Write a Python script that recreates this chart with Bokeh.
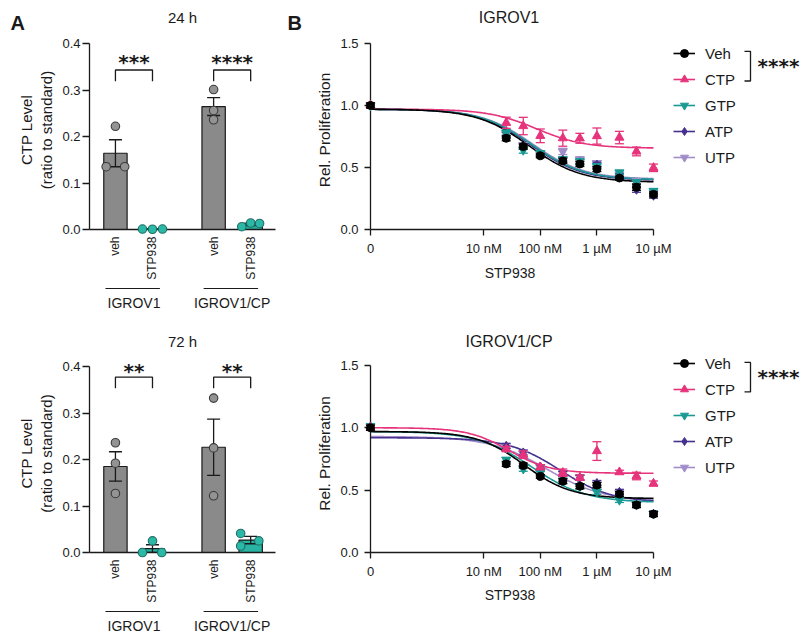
import numpy as np
from bokeh.plotting import figure
from bokeh.models import (Range1d, FixedTicker, Label, Legend, LegendItem,
                          ColumnDataSource, NumeralTickFormatter)
from bokeh.core.properties import value
from bokeh.layouts import column, row
from bokeh.embed import file_html
from bokeh.resources import INLINE

FONT = "Liberation Sans"
INK = "#1a1a1a"

# ---------------- Panel A data (CTP level, ratio to standard) ----------------
A_CONDITIONS = ["veh", "STP938", "veh", "STP938"]
A_CELL_LINES = ["IGROV1", "IGROV1/CP"]
A_TIMEPOINTS = ["24 h", "72 h"]
CTP_LEVEL_24H = [
    [0.222, 0.135, 0.135],
    [0.001, 0.0005, 0.001],
    [0.301, 0.256, 0.236],
    [0.006, 0.014, 0.013],
]
CTP_LEVEL_72H = [
    [0.236, 0.192, 0.127],
    [0.025, 0.0, 0.0],
    [0.332, 0.225, 0.122],
    [0.041, 0.025, 0.014],
]
SIGNIF_24H = ["***", "****"]
SIGNIF_72H = ["**", "**"]
A_YTICKS = [0.0, 0.1, 0.2, 0.3, 0.4]

# ---------------- Panel B data (relative proliferation) ----------------
CONC_NM = [0, 25, 50, 100, 250, 500, 1000, 2500, 5000, 10000]
B_XTICKS = [0.1, 10, 100, 1000, 10000]          # "0" is drawn at 0.1 nM
B_XLABELS = ["0", "10 nM", "100 nM", "1 µM", "10 µM"]
B_YTICKS = [0.0, 0.5, 1.0, 1.5]
SUPPLEMENTS = ["Veh", "CTP", "GTP", "ATP", "UTP"]
B_TITLES = ["IGROV1", "IGROV1/CP"]
B_XLABEL = "STP938"
B_SIGNIF = "****"

IGROV1_VEH = [1.00, 0.735, 0.669, 0.594, 0.553, 0.528, 0.487, 0.415, 0.341, 0.283]
IGROV1_CTP = [1.00, 0.860, 0.834, 0.755, 0.736, 0.735, 0.753, 0.741, 0.629, 0.497]
IGROV1_GTP = [1.00, 0.780, 0.640, 0.615, 0.565, 0.549, 0.510, 0.460, 0.381, 0.310]
IGROV1_ATP = [1.00, 0.765, 0.668, 0.602, 0.560, 0.541, 0.522, 0.434, 0.320, 0.272]
IGROV1_UTP = [1.00, 0.767, 0.680, 0.607, 0.629, 0.565, 0.535, 0.442, 0.390, 0.293]
IGROV1_VEH_ERR = [0.02, 0.02, 0.02, 0.015, 0.02, 0.02, 0.02, 0.015, 0.025, 0.02]
IGROV1_CTP_ERR = [0.02, 0.045, 0.07, 0.055, 0.065, 0.04, 0.065, 0.05, 0.035, 0.03]
IGROV1_GTP_ERR = [0.02, 0.02, 0.025, 0.015, 0.02, 0.02, 0.02, 0.015, 0.02, 0.02]
IGROV1_ATP_ERR = [0.02, 0.02, 0.02, 0.015, 0.02, 0.02, 0.02, 0.015, 0.02, 0.02]
IGROV1_UTP_ERR = [0.02, 0.02, 0.02, 0.015, 0.025, 0.02, 0.02, 0.015, 0.02, 0.02]
# fitted curves: top, bottom, logIC50 (log10 nM), Hill slope
IGROV1_FIT_VEH = [0.97, 0.380, 1.80, 0.95]
IGROV1_FIT_CTP = [0.97, 0.655, 1.93, 1.02]
IGROV1_FIT_GTP = [0.97, 0.400, 1.85, 0.95]
IGROV1_FIT_ATP = [0.97, 0.395, 1.83, 0.95]
IGROV1_FIT_UTP = [0.97, 0.405, 1.87, 0.95]

CP_VEH = [1.00, 0.710, 0.697, 0.610, 0.571, 0.531, 0.540, 0.468, 0.381, 0.308]
CP_CTP = [1.00, 0.829, 0.784, 0.684, 0.639, 0.600, 0.813, 0.644, 0.613, 0.553]
CP_GTP = [1.01, 0.742, 0.671, 0.636, 0.575, 0.530, 0.486, 0.421, 0.385, 0.310]
CP_ATP = [1.01, 0.855, 0.802, 0.689, 0.630, 0.600, 0.557, 0.486, 0.380, 0.310]
CP_UTP = [1.01, 0.840, 0.790, 0.684, 0.630, 0.600, 0.545, 0.475, 0.382, 0.310]
CP_VEH_ERR = [0.02, 0.02, 0.02, 0.015, 0.02, 0.02, 0.02, 0.02, 0.02, 0.02]
CP_CTP_ERR = [0.02, 0.02, 0.03, 0.02, 0.03, 0.02, 0.075, 0.015, 0.03, 0.02]
CP_GTP_ERR = [0.02, 0.02, 0.02, 0.015, 0.02, 0.02, 0.02, 0.02, 0.02, 0.02]
CP_ATP_ERR = [0.02, 0.02, 0.02, 0.015, 0.02, 0.02, 0.02, 0.02, 0.02, 0.02]
CP_UTP_ERR = [0.02, 0.02, 0.02, 0.015, 0.02, 0.02, 0.02, 0.02, 0.02, 0.02]
CP_FIT_VEH = [0.97, 0.432, 1.72, 1.05]
CP_FIT_CTP = [1.00, 0.635, 1.45, 1.19]
CP_FIT_GTP = [0.97, 0.400, 1.85, 0.91]
CP_FIT_ATP = [0.92, 0.400, 2.35, 0.95]
CP_FIT_UTP = [0.93, 0.410, 2.11, 0.86]

# ---------------- styles / layout ----------------
A_POS = [0.0, 1.0, 2.65, 3.65]
A_GROUPS = [(0, 1), (2, 3)]
A_XRANGE = (-0.70, 4.32)
A_BAR_FILL = ["#8a8a8a", "#29b3a2", "#8a8a8a", "#29b3a2"]
A_PT_FILL = ["#939393", "#2bb8a6", "#939393", "#2bb8a6"]
A_PT_LINE = ["#3a3a3a", "#1f6f66", "#3a3a3a", "#1f6f66"]
JITTER_24H = [[0, -0.25, 0.25], [-0.27, 0, 0.27], [0, 0, 0], [-0.24, 0, 0.24]]
JITTER_72H = [[0, 0, 0], [0, -0.27, 0.25], [0, 0, 0], [-0.27, 0.22, -0.27]]

B_COLORS = {"Veh": "#000000", "CTP": "#e6337b", "GTP": "#1b9a94", "ATP": "#46318e", "UTP": "#a08dc9"}
B_MARKERS = {"Veh": "circle", "CTP": "triangle", "GTP": "inverted_triangle",
             "ATP": "diamond", "UTP": "inverted_triangle"}
B_SIZES = {"Veh": 8, "CTP": 9, "GTP": 9, "ATP": 9, "UTP": 9}
B_DRAW_ORDER = ["UTP", "ATP", "GTP", "CTP", "Veh"]

W_A, W_B = 287, 517
H_TOP, H_BOT = 310, 323
A_LEFT, B_LEFT = 89, 83
A_FRAME_W = 186
B_PLOT_W = 283                 # pixels from "0" to "10 µM"
B_FRAME_W = W_B - B_LEFT - 4   # frame continues to the right to hold the legend
TITLE_STANDOFF = 10
# approximate advance widths (em) of the title glyphs, used to centre B titles over the axis span
GLYPH_EM = {"I": 0.278, "G": 0.778, "R": 0.722, "O": 0.778, "V": 0.667, "1": 0.556, "/": 0.278,
            "C": 0.722, "P": 0.667}


def style_axis(ax, size="13px"):
    ax.axis_line_color = INK
    ax.axis_line_width = 1.3
    ax.major_tick_line_color = INK
    ax.major_tick_line_width = 1.3
    ax.minor_tick_line_color = None
    ax.major_tick_in = 0
    ax.major_label_text_font = FONT
    ax.major_label_text_font_size = size
    ax.major_label_text_color = INK
    ax.axis_label_text_font = FONT
    ax.axis_label_text_font_style = "normal"
    ax.axis_label_text_color = INK


def style_title(p, text, size, align="center", offset=0):
    p.title.text = text
    p.title.align = align
    p.title.offset = offset
    p.title.text_font = FONT
    p.title.text_font_size = size
    p.title.text_font_style = "normal"
    p.title.text_color = INK
    p.title.standoff = TITLE_STANDOFF


def free_text(p, x, y, txt, size, font=FONT, bold=True, align="left", baseline="alphabetic"):
    r = p.text(x=[x], y=[y], text=[txt], text_font=value(font), text_font_size=value(size),
               text_font_style="bold" if bold else "normal", text_color=INK,
               text_align=align, text_baseline=baseline)
    r.level = "overlay"
    return r


def panel_a(values, signif, title, height, plot_top, plot_h, title_center, jitter, bracket_y,
            star_dy, letters):
    border_top = int(round(title_center + 12))
    frame_h = plot_h + (plot_top - border_top)
    border_bottom = height - border_top - frame_h
    y_end = 0.4 * frame_h / plot_h
    p = figure(width=W_A, height=height, x_range=Range1d(*A_XRANGE), y_range=Range1d(0, y_end),
               min_border_left=A_LEFT, min_border_right=W_A - A_LEFT - A_FRAME_W,
               min_border_top=border_top, min_border_bottom=border_bottom,
               output_backend="svg", toolbar_location=None)
    p.outline_line_color = None
    p.grid.visible = False
    style_title(p, title, "15px")
    ux = (A_XRANGE[1] - A_XRANGE[0]) / A_FRAME_W      # data units per pixel
    uy = 0.4 / plot_h

    means = [float(np.mean(v)) for v in values]
    sems = [float(np.std(v, ddof=1) / np.sqrt(len(v))) for v in values]
    src = ColumnDataSource(dict(x=A_POS, top=means, fill=A_BAR_FILL,
                                lo=[m - s for m, s in zip(means, sems)],
                                hi=[m + s for m, s in zip(means, sems)]))
    p.vbar(x="x", top="top", width=0.63, fill_color="fill", line_color=INK, line_width=1.2, source=src)
    p.segment(x0="x", y0="lo", x1="x", y1="hi", line_color=INK, line_width=1.3, source=src)
    p.scatter("x", "hi", marker="dash", size=13, line_color=INK, line_width=1.3, source=src)
    p.scatter("x", "lo", marker="dash", size=13, line_color=INK, line_width=1.3, source=src)
    for i, vals in enumerate(values):
        xs = [A_POS[i] + j for j in jitter[i]]
        r = p.scatter(xs, vals, marker="circle", size=8.5, fill_color=A_PT_FILL[i],
                      line_color=A_PT_LINE[i], line_width=1.1)
        r.level = "overlay"

    # significance brackets
    for (a, b), s in zip(A_GROUPS, signif):
        p.line([A_POS[a], A_POS[a], A_POS[b], A_POS[b]],
               [bracket_y - 0.024, bracket_y, bracket_y, bracket_y - 0.024],
               line_color=INK, line_width=1.3)
        p.add_layout(Label(x=(A_POS[a] + A_POS[b]) / 2, y=bracket_y + star_dy, text=s,
                           text_align="center", text_baseline="bottom",
                           text_font="DejaVu Sans", text_font_style="bold",
                           text_font_size="20px", text_color=INK))

    # axes
    style_axis(p.yaxis[0])
    p.yaxis.ticker = FixedTicker(ticks=A_YTICKS)
    p.yaxis.bounds = (A_YTICKS[0], A_YTICKS[-1])
    p.yaxis.formatter = NumeralTickFormatter(format="0.0")
    p.yaxis.major_tick_out = 7
    p.yaxis.major_label_standoff = 2
    p.yaxis.axis_label = "CTP Level\n(ratio to standard)"
    p.yaxis.axis_label_text_font_size = "15px"
    p.yaxis.axis_label_standoff = 4

    style_axis(p.xaxis[0], "12px")
    p.xaxis.ticker = FixedTicker(ticks=A_POS)
    p.xaxis.major_label_overrides = {x: c for x, c in zip(A_POS, A_CONDITIONS)}
    p.xaxis.major_label_orientation = np.pi / 2
    p.xaxis.major_tick_out = 0
    p.xaxis.major_label_standoff = 7

    # cell-line names under a rule, below the condition labels
    for (a, b), name in zip(A_GROUPS, A_CELL_LINES):
        r = p.line([A_POS[a] - 0.27, A_POS[b] + 0.2], [-59 * uy, -59 * uy], line_color=INK, line_width=1.2)
        r.level = "overlay"
        free_text(p, (A_POS[a] + A_POS[b]) / 2, -73.5 * uy, name, "14px", bold=False,
                  align="center", baseline="middle")

    for txt, px in letters:
        free_text(p, A_XRANGE[0] + px * ux, 0.4 + 20.5 * uy, txt, "20px")
    return p


def panel_b(means, errs, fits, title, height, plot_top, plot_h, title_center, legend_offset, letter=None):
    border_top = int(round(title_center + 12))
    frame_h = plot_h + (plot_top - border_top)
    border_bottom = height - border_top - frame_h
    px_dec = B_PLOT_W / (np.log10(B_XTICKS[-1]) - np.log10(B_XTICKS[0]))

    def bx(px):   # data x at px pixels right of the frame's left edge
        return 10 ** (np.log10(B_XTICKS[0]) + px / px_dec)

    def by(py):   # data y at py pixels above the frame's bottom edge
        return py * 1.5 / plot_h

    p = figure(width=W_B, height=height, x_axis_type="log",
               x_range=Range1d(B_XTICKS[0], bx(B_FRAME_W)), y_range=Range1d(0, by(frame_h)),
               min_border_left=B_LEFT, min_border_right=W_B - B_LEFT - B_FRAME_W,
               min_border_top=border_top, min_border_bottom=border_bottom,
               output_backend="svg", toolbar_location=None)
    p.outline_line_color = None
    p.grid.visible = False
    title_w = sum(GLYPH_EM.get(ch, 0.6) for ch in title) * 16
    style_title(p, title, "16px", align="left", offset=B_PLOT_W / 2 - 3 - title_w / 2)

    x_pos = [B_XTICKS[0] if c == 0 else c for c in CONC_NM]
    xs_fit = np.logspace(np.log10(B_XTICKS[0]), np.log10(B_XTICKS[-1]), 240)
    lines = {}
    for name in B_DRAW_ORDER:
        t, b, logc, hill = fits[name]
        yfit = b + (t - b) / (1 + 10 ** ((np.log10(xs_fit) - logc) * hill))
        lines[name] = p.line(xs_fit, yfit, line_color=B_COLORS[name], line_width=1.6)
    marks = {}
    for name in B_DRAW_ORDER:
        m = np.array(means[name])
        e = np.array(errs[name])
        c = B_COLORS[name]
        src = ColumnDataSource(dict(x=x_pos, y=m, lo=m - e, hi=m + e))
        rs = [p.segment(x0="x", y0="lo", x1="x", y1="hi", line_color=c, line_width=1.3, source=src),
              p.scatter("x", "hi", marker="dash", size=9, line_color=c, line_width=1.3, source=src),
              p.scatter("x", "lo", marker="dash", size=9, line_color=c, line_width=1.3, source=src)]
        sc = p.scatter("x", "y", marker=B_MARKERS[name], size=B_SIZES[name], fill_color=c,
                       line_color=c, source=src)
        rs.append(sc)
        for r in rs:
            r.level = "overlay"
        marks[name] = sc

    style_axis(p.xaxis[0])
    p.xaxis.ticker = FixedTicker(ticks=B_XTICKS, minor_ticks=[])
    p.xaxis.bounds = (B_XTICKS[0], B_XTICKS[-1])
    p.xaxis.major_label_overrides = {x: l for x, l in zip(B_XTICKS, B_XLABELS)}
    p.xaxis.major_tick_out = 6
    p.xaxis.major_label_standoff = 5
    # axis title centred under the 0 .. 10 µM span
    free_text(p, bx(B_PLOT_W / 2 - 2), by(-43.5), B_XLABEL, "14px", bold=False,
              align="center", baseline="middle")

    style_axis(p.yaxis[0])
    p.yaxis.ticker = FixedTicker(ticks=B_YTICKS)
    p.yaxis.bounds = (B_YTICKS[0], B_YTICKS[-1])
    p.yaxis.formatter = NumeralTickFormatter(format="0.0")
    p.yaxis.major_tick_out = 6
    p.yaxis.major_label_standoff = 6
    p.yaxis.axis_label = "Rel. Proliferation"
    p.yaxis.axis_label_text_font_size = "15.5px"
    p.yaxis.axis_label_standoff = 4

    row_h, gap = 20, 6
    leg_h = len(SUPPLEMENTS) * row_h + (len(SUPPLEMENTS) - 1) * gap
    legend = Legend(items=[LegendItem(label=n, renderers=[lines[n], marks[n]]) for n in SUPPLEMENTS],
                    location=(B_PLOT_W + 20, plot_h - legend_offset - leg_h), orientation="vertical",
                    padding=0, margin=0, spacing=gap, label_height=row_h, glyph_height=row_h,
                    glyph_width=22, label_standoff=10, label_text_font=FONT,
                    label_text_font_size="15px", label_text_color=INK,
                    background_fill_alpha=0, border_line_color=None)
    p.add_layout(legend, "center")

    # bracket joining Veh and CTP, with its significance
    r0 = plot_h - legend_offset - row_h / 2
    r1 = r0 - row_h - gap
    bl = B_PLOT_W + 91
    br = p.line([bx(bl), bx(bl + 6), bx(bl + 6), bx(bl)], [by(r0 + 4), by(r0 + 4), by(r1), by(r1)],
                line_color=INK, line_width=1.3)
    br.level = "overlay"
    free_text(p, bx(bl + 13), by((r0 + 4 + r1) / 2 - 12), B_SIGNIF, "20px", font="DejaVu Sans",
              baseline="bottom")
    if letter:
        free_text(p, bx(-B_LEFT), by(plot_h + 20.5), letter, "20px")
    return p


top_means = {"Veh": IGROV1_VEH, "CTP": IGROV1_CTP, "GTP": IGROV1_GTP, "ATP": IGROV1_ATP, "UTP": IGROV1_UTP}
top_errs = {"Veh": IGROV1_VEH_ERR, "CTP": IGROV1_CTP_ERR, "GTP": IGROV1_GTP_ERR,
            "ATP": IGROV1_ATP_ERR, "UTP": IGROV1_UTP_ERR}
top_fits = {"Veh": IGROV1_FIT_VEH, "CTP": IGROV1_FIT_CTP, "GTP": IGROV1_FIT_GTP,
            "ATP": IGROV1_FIT_ATP, "UTP": IGROV1_FIT_UTP}
bot_means = {"Veh": CP_VEH, "CTP": CP_CTP, "GTP": CP_GTP, "ATP": CP_ATP, "UTP": CP_UTP}
bot_errs = {"Veh": CP_VEH_ERR, "CTP": CP_CTP_ERR, "GTP": CP_GTP_ERR, "ATP": CP_ATP_ERR, "UTP": CP_UTP_ERR}
bot_fits = {"Veh": CP_FIT_VEH, "CTP": CP_FIT_CTP, "GTP": CP_FIT_GTP, "ATP": CP_FIT_ATP, "UTP": CP_FIT_UTP}

a1 = panel_a(CTP_LEVEL_24H, SIGNIF_24H, A_TIMEPOINTS[0], H_TOP, 43, 186, 18, JITTER_24H, 0.343, -0.009,
             [("A", -79)])
a2 = panel_a(CTP_LEVEL_72H, SIGNIF_72H, A_TIMEPOINTS[1], H_BOT, 56, 186, 31.7, JITTER_72H, 0.377, -0.013, [])
b1 = panel_b(top_means, top_errs, top_fits, B_TITLES[0], H_TOP, 42, 188, 17.3, 2, letter="B")
b2 = panel_b(bot_means, bot_errs, bot_fits, B_TITLES[1], H_BOT, 53, 190, 30, -9)

layout = column(row(a1, b1), row(a2, b2))
open("out.html", "w").write(file_html(layout, INLINE))
